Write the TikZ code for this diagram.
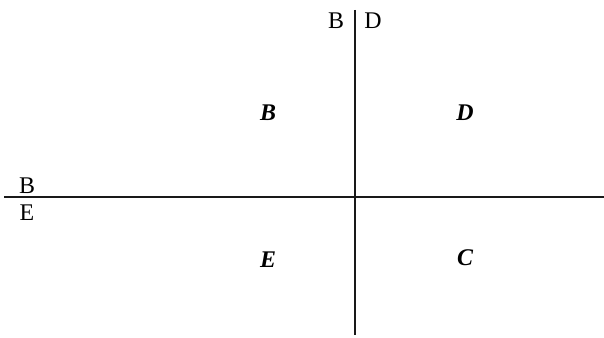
\documentclass[tikz,border=0pt]{standalone}
\usepackage{fontspec}
\setmainfont{Liberation Serif}
\begin{document}
\begin{tikzpicture}[
    axis/.style={line width=1.8pt, draw=black!90},
    lbl/.style={font=\fontsize{17}{20}\selectfont, inner sep=0pt},
    zone/.style={font=\fontsize{17}{20}\selectfont\bfseries\itshape, inner sep=0pt}]
    \useasboundingbox (0,0) rectangle (15.1, 8.425);
    % axes
    \coordinate (vtop) at (8.875, 8.175);
    \coordinate (vbot) at (8.875, 0.05);
    \coordinate (hleft) at (0.1, 3.5);
    \coordinate (hright) at (15.1, 3.5);
    \draw[axis] (vtop) -- (vbot);
    \draw[axis] (hleft) -- (hright);
    % axis labels
    \node[lbl] (topB) at (8.4, 7.9) {B};
    \node[lbl] (topD) at (9.325, 7.9) {D};
    \node[lbl] (leftB) at (0.675, 3.78) {B};
    \node[lbl] (leftE) at (0.675, 3.12) {E};
    % quadrants
    \node[zone] (zoneB) at (6.7, 5.6) {B};
    \node[zone] (zoneD) at (11.625, 5.6) {D};
    \node[zone] (zoneE) at (6.7, 1.925) {E};
    \node[zone] (zoneC) at (11.625, 1.975) {C};
\end{tikzpicture}
\end{document}
